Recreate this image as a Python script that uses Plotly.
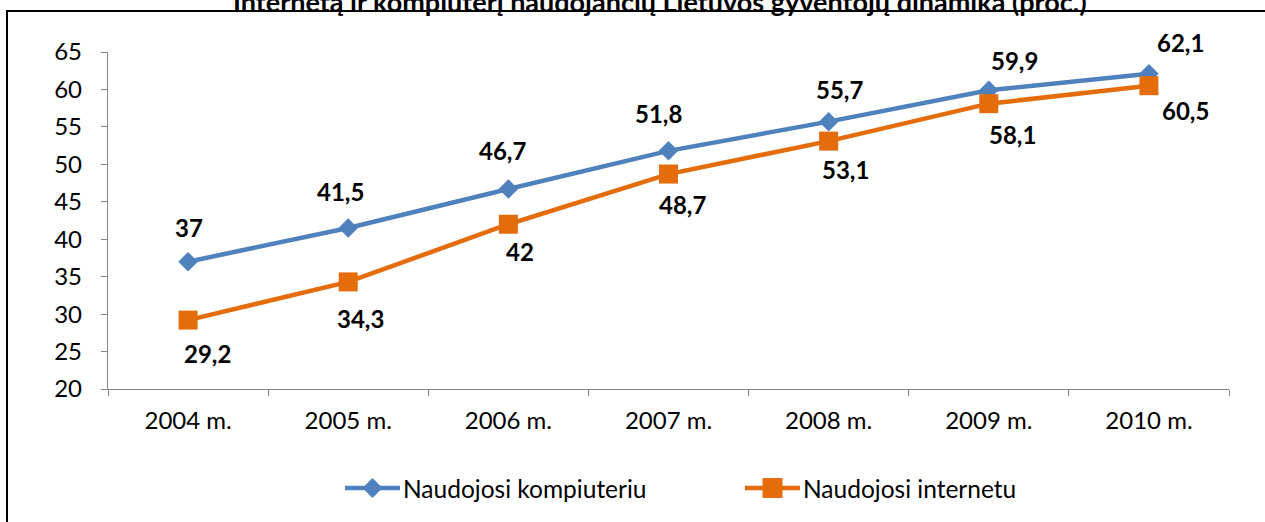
import plotly.graph_objects as go

# ---- data ----
years = ["2004 m.", "2005 m.", "2006 m.", "2007 m.", "2008 m.", "2009 m.", "2010 m."]
computer = [37, 41.5, 46.7, 51.8, 55.7, 59.9, 62.1]
internet = [29.2, 34.3, 42, 48.7, 53.1, 58.1, 60.5]
computer_name = "Naudojosi kompiuteriu"
internet_name = "Naudojosi internetu"
title_text = "Internetą ir kompiuterį naudojančių Lietuvos gyventojų dinamika (proc.)"

# label pixel offsets (dx right, dy down) relative to each point
computer_off = [(1, -34), (-8, -36), (-6, -39), (-10, -37), (11, -32), (26, -30), (32, -31)]
internet_off = [(19, 33), (12, 37), (12, 27), (14, 30), (17, 28), (24, 31), (37, 25)]

BLUE = "#4F81BD"
ORANGE = "#E46C0A"
AXIS = "#868686"
FONT = "Lato"
FS = 24

W, H = 1265, 522
L, R, T, B = 108, 36, 52, 133
PW = W - L - R
PH = H - T - B


def px(x):
    return (x - L) / PW


def py(y):
    return (H - B - y) / PH


def fmt(v):
    s = f"{v:g}"
    return s.replace(".", ",")


fig = go.Figure()
fig.add_trace(go.Scatter(x=years, y=computer, name=computer_name, mode="lines+markers",
                         line=dict(color=BLUE, width=4.5),
                         marker=dict(symbol="diamond", size=15, color=BLUE),
                         showlegend=False))
fig.add_trace(go.Scatter(x=years, y=internet, name=internet_name, mode="lines+markers",
                         line=dict(color=ORANGE, width=4.5),
                         marker=dict(symbol="square", size=19, color=ORANGE),
                         showlegend=False))

annotations = []
for yr, v, (dx, dy) in zip(years, computer, computer_off):
    annotations.append(dict(x=yr, y=v, xref="x", yref="y", text=fmt(v), showarrow=False,
                            xshift=dx, yshift=-dy,
                            font=dict(family=FONT, size=FS, color="black", weight="bold")))
for yr, v, (dx, dy) in zip(years, internet, internet_off):
    annotations.append(dict(x=yr, y=v, xref="x", yref="y", text=fmt(v), showarrow=False,
                            xshift=dx, yshift=-dy,
                            font=dict(family=FONT, size=FS, color="black", weight="bold")))

# legend (manual, Excel style with long line symbols)
shapes = []
legend_items = [(345, 400, BLUE, "diamond", computer_name), (745, 800, ORANGE, "square", internet_name)]
LY = 488
for x0, x1, col, sym, name in legend_items:
    shapes.append(dict(type="line", xref="paper", yref="paper", x0=px(x0), x1=px(x1),
                       y0=py(LY), y1=py(LY), line=dict(color=col, width=4.5)))
    cx = (x0 + x1) / 2
    if sym == "diamond":
        r = 10
        path = (f"M{px(cx)},{py(LY - r)} L{px(cx + r)},{py(LY)} L{px(cx)},{py(LY + r)} "
                f"L{px(cx - r)},{py(LY)} Z")
        shapes.append(dict(type="path", xref="paper", yref="paper", path=path,
                           fillcolor=col, line=dict(width=0)))
    else:
        r = 10
        shapes.append(dict(type="rect", xref="paper", yref="paper", x0=px(cx - r), x1=px(cx + r),
                           y0=py(LY + r), y1=py(LY - r), fillcolor=col, line=dict(width=0)))
    annotations.append(dict(x=px(x1 + 1), y=py(LY), xref="paper", yref="paper", text=name,
                            showarrow=False, xanchor="left", yanchor="middle",
                            font=dict(family=FONT, size=FS + 0.5, color="black")))

# outer frame (left and top edges visible)
shapes.append(dict(type="rect", xref="paper", yref="paper", x0=px(7), x1=px(1300),
                   y0=py(560), y1=py(11), line=dict(color="black", width=2), layer="below"))

annotations.append(dict(x=px(660), y=py(2), xref="paper", yref="paper", text=title_text,
                        showarrow=False, xanchor="center", yanchor="middle",
                        font=dict(family=FONT, size=27, color="black", weight="bold")))

fig.update_layout(
    width=W, height=H,
    margin=dict(l=L, r=R, t=T, b=B, autoexpand=False),
    paper_bgcolor="white", plot_bgcolor="white",
    font=dict(family=FONT, size=FS, color="black"),
    showlegend=False,
    annotations=annotations,
    shapes=shapes,
    xaxis=dict(type="category", range=[-0.5, 6.5], autorange=False,
               tickson="boundaries", ticks="outside", ticklen=6,
               tickcolor=AXIS, showline=True, linecolor=AXIS, linewidth=1.3,
               showgrid=False, zeroline=False, ticklabelstandoff=10,
               tickfont=dict(family=FONT, size=FS, color="black")),
    yaxis=dict(range=[20, 65], dtick=5, tick0=20, ticks="outside", ticklen=6,
               tickcolor=AXIS, showline=True, linecolor=AXIS, linewidth=1.3,
               showgrid=False, zeroline=False, ticklabelstandoff=14,
               tickfont=dict(family=FONT, size=FS, color="black")),
)

fig.write_html("out.html", config={"displayModeBar": False},
               post_script="document.body.style.margin='0';document.body.style.overflow='hidden';")
